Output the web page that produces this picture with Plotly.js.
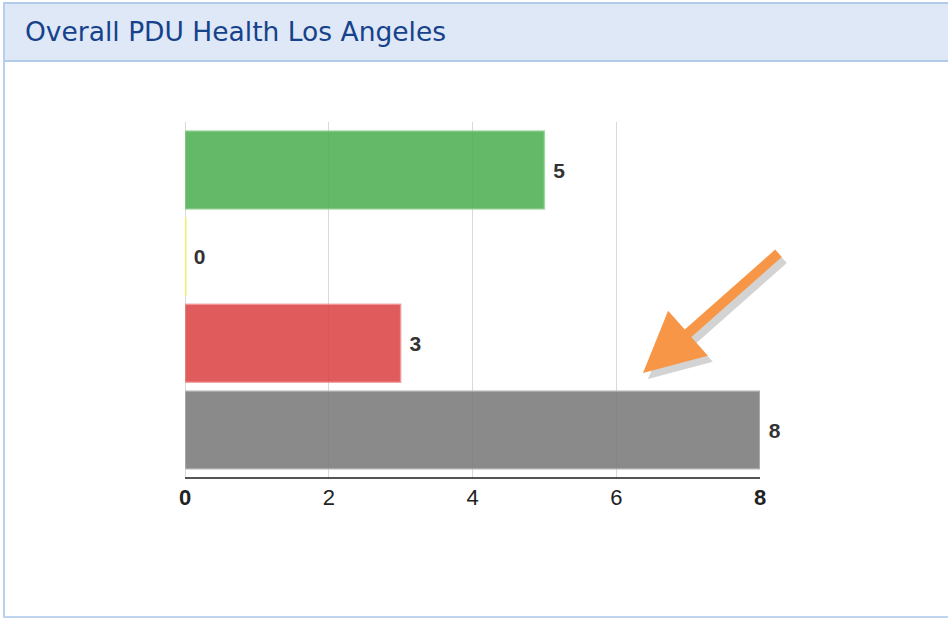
<!DOCTYPE html>
<html>
<head>
<meta charset="utf-8">
<script src="https://cdn.plot.ly/plotly-3.0.1.min.js"></script>
<style>
  html, body { margin: 0; padding: 0; width: 948px; height: 619px; overflow: hidden; background: #ffffff; }
  #panel { position: absolute; left: 0; top: 0; width: 948px; height: 619px; }
  #hdr { position: absolute; left: 3px; top: 2px; width: 945px; height: 56px; background: #dfe8f6;
         border-top: 2px solid #b3cbeb; border-bottom: 2px solid #b3cbeb; }
  #lb { position: absolute; left: 3px; top: 2px; width: 2px; height: 615px; background: #b9cfee; }
  #bb { position: absolute; left: 3px; top: 616px; width: 945px; height: 2px; background: #c0d4f0; }
  #chart { position: absolute; left: 0; top: 0; width: 948px; height: 619px; }
</style>
</head>
<body>
<div id="panel"><div id="hdr"></div><div id="lb"></div><div id="bb"></div></div>
<div id="chart"></div>
<script>
// Data
var categories = ["Healthy", "Warning", "Critical", "Total"];
var counts = [5, 0, 3, 8];
var barColors = ["rgba(76,175,80,0.87)", "rgba(255,255,140,0.9)", "rgba(219,68,68,0.87)", "rgba(121,121,121,0.87)"];
var lineColors = ["rgba(150,210,150,0.8)", "rgba(240,240,100,1)", "rgba(240,150,150,0.8)", "rgba(190,190,190,0.8)"];
var tickValues = [0, 2, 4, 6, 8];
var tickLabels = ["<b>0</b>", "2", "4", "6", "<b>8</b>"];

var labelFont = "Arial, 'Liberation Sans', Helvetica, sans-serif";

var trace = {
  type: "bar",
  orientation: "h",
  y: categories,
  x: counts,
  marker: { color: barColors, line: { color: lineColors, width: 1.5 } },
  text: counts.map(function (v) { return "\u00a0" + v; }),
  textposition: "outside",
  cliponaxis: false,
  textfont: { family: labelFont, size: 21, color: "#333333", weight: "bold" },
  hoverinfo: "x+y"
};

// thin outline for zero-valued bars (drawn at the axis origin, per category)
var zeroShapes = [];
counts.forEach(function (v, i) {
  if (v === 0) {
    zeroShapes.push({
      type: "line", xref: "x", yref: "y",
      x0: 0, x1: 0, y0: i - 0.45, y1: i + 0.45,
      line: { color: lineColors[i], width: 3 }
    });
  }
});

var layout = {
  width: 948, height: 619,
  paper_bgcolor: "rgba(0,0,0,0)",
  plot_bgcolor: "rgba(0,0,0,0)",
  margin: { l: 185, r: 188, t: 122, b: 142 },
  showlegend: false,
  bargap: 0.1,
  title: {
    text: "Overall PDU Health Los Angeles",
    xref: "container", yref: "container",
    x: 25 / 948, xanchor: "left",
    y: 1 - 32 / 619, yanchor: "middle",
    font: { family: "DejaVu Sans, Verdana, sans-serif", size: 26.5, color: "#15428b" }
  },
  xaxis: {
    range: [0, 8],
    tickvals: tickValues,
    ticktext: tickLabels,
    showgrid: true,
    gridcolor: "#d9d9d9",
    gridwidth: 1,
    zeroline: true,
    zerolinecolor: "#d9d9d9",
    zerolinewidth: 1,
    showline: true,
    linecolor: "#555555",
    linewidth: 2,
    ticks: "",
    tickfont: { family: labelFont, size: 22, color: "#222222" },
    fixedrange: true
  },
  yaxis: {
    range: [3.542, -0.554],
    showticklabels: false,
    showgrid: false,
    zeroline: false,
    showline: false,
    ticks: "",
    fixedrange: true
  },
  shapes: zeroShapes,
  annotations: [
    {
      xref: "paper", yref: "paper",
      x: (648 - 185) / 575, y: (477 - 379) / 355,
      ax: 137, ay: -121,
      text: "", showarrow: true,
      arrowhead: 2, arrowsize: 1.2, arrowwidth: 10,
      arrowcolor: "rgba(60,60,60,0.22)"
    },
    {
      xref: "paper", yref: "paper",
      x: (643 - 185) / 575, y: (477 - 373) / 355,
      ax: 137, ay: -121,
      text: "", showarrow: true,
      arrowhead: 2, arrowsize: 1.2, arrowwidth: 10,
      arrowcolor: "#f79646"
    }
  ]
};

Plotly.newPlot("chart", [trace], layout, { displayModeBar: false, staticPlot: true });
</script>
</body>
</html>
